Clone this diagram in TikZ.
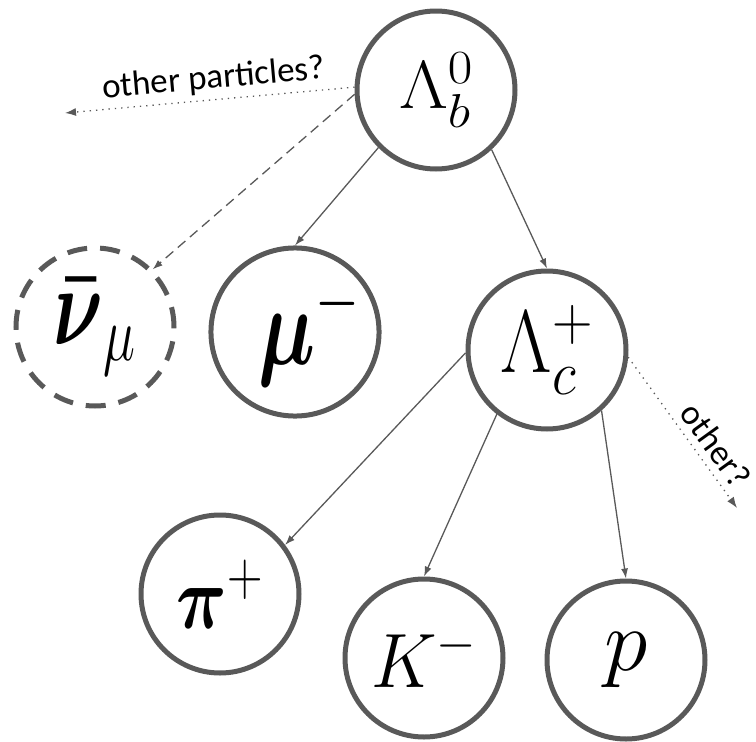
\RequirePackage{fix-cm}
\documentclass[tikz,border=0pt]{standalone}
\usepackage{amsmath,amssymb}
\usepackage{graphicx}
\usepackage{fontspec}
\newfontfamily\labelfont{Carlito}
\usepackage{tikz}
\usetikzlibrary{arrows.meta}
\definecolor{ringgray}{RGB}{89,89,89}
% particle symbol: horizontal squeeze, size, math
\newcommand{\partsym}[3]{\scalebox{#1}[1]{\fontsize{#2}{#2}\selectfont$#3$}}

\begin{document}
\begin{tikzpicture}[x=1pt,y=-1pt,
  particle/.style={circle,draw=ringgray,line width=5pt,minimum size=158pt,inner sep=0pt},
  decay/.style={-{Latex[length=10pt,width=7pt]},draw=ringgray,line width=1.3pt},
  guess/.style={-{Latex[length=11pt,width=8pt]},draw=ringgray,line width=1.3pt,dash pattern=on 1.3pt off 5pt},
  lbl/.style={font=\labelfont\fontsize{35}{36}\selectfont,text=black,inner sep=2pt}]
\useasboundingbox (0,0) rectangle (756,742);
\node[particle] (Lb) at (436,90) {\partsym{1.12}{68}{\Lambda_b^0}};
\node[particle,dash pattern=on 20pt off 13pt] (nubar) at (95,327) {\partsym{0.69}{112}{\boldsymbol{\bar\nu}_\mu}};
\node[particle] (mu) at (295,332) {\hspace*{28pt}\partsym{0.72}{112}{\boldsymbol{\mu}^-}};
\node[particle] (Lc) at (547,350) {\partsym{0.9}{89}{\Lambda_c^+}};
\node[particle] (piplus) at (220,594) {\partsym{0.78}{90}{\boldsymbol{\pi}^+}};
\node[particle] (Kminus) at (424,658) {\partsym{0.94}{77}{K^-}};
\node[particle] (proton) at (626,660) {\partsym{1}{88}{p}};
\coordinate (elsewhere) at (65,113);
\coordinate (others) at (737,508);

\draw[decay] (Lb.225) -- (mu.90);
\draw[decay] (Lb.313) -- (Lc.90);
\draw[decay,dash pattern=on 10pt off 6pt] (Lb.183) -- (nubar.45);
\draw[guess] (Lb.178) -- node[lbl,sloped,above=3pt,pos=0.48] {other particles?} (elsewhere);
\draw[decay] (Lc.182) -- (piplus.37);
\draw[decay] (Lc.232) -- (Kminus.90);
\draw[decay] (Lc.312) -- (proton.90);
\draw[guess] (Lc.355) -- node[lbl,sloped,above=5pt,pos=0.66] {other?} (others);
\end{tikzpicture}
\end{document}
